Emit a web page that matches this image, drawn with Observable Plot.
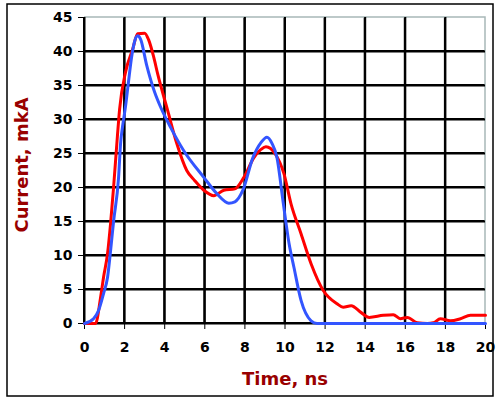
<!DOCTYPE html>
<html><head><meta charset="utf-8">
<script src="https://cdn.jsdelivr.net/npm/d3@7"></script>
<script src="https://cdn.jsdelivr.net/npm/@observablehq/plot@0.6"></script>
<style>html,body{margin:0;padding:0;background:#fff;overflow:hidden}</style>
</head><body><div id="chart"></div>
<script>
const xLabel = "Time, ns";
const yLabel = "Current, mkA";
const xTicks = [0, 2, 4, 6, 8, 10, 12, 14, 16, 18, 20];
const yTicks = [0, 5, 10, 15, 20, 25, 30, 35, 40, 45];

const redT = [0, 0.55, 0.8, 0.95, 1.15, 1.3, 1.45, 1.64, 1.75, 2.05, 2.4, 2.65, 3.0, 3.2, 3.45, 3.65, 4.15, 4.6, 5.1, 5.5, 5.95, 6.45, 6.95, 7.5, 7.95, 8.45, 8.8, 9.05, 9.5, 9.95, 10.3, 10.8, 11.3, 11.9, 12.6, 12.9, 13.3, 13.8, 14.2, 14.9, 15.4, 15.75, 16.1, 16.6, 17.1, 17.4, 17.75, 18.25, 18.75, 19.25, 20];
const redV = [0, 0, 3.8, 6.8, 10.3, 14.7, 20, 27.5, 31.5, 37, 40.3, 42.6, 42.7, 41.7, 39.2, 36.7, 31.3, 26.5, 22.5, 21, 19.6, 18.8, 19.6, 19.8, 21.5, 24.4, 25.6, 26, 25, 22, 17.6, 13.2, 8.8, 4.9, 2.9, 2.4, 2.6, 1.6, 0.9, 1.2, 1.3, 0.7, 0.9, 0.1, 0, 0.1, 0.7, 0.4, 0.7, 1.2, 1.2];

const blueT = [0, 0.45, 0.7, 0.95, 1.15, 1.3, 1.45, 1.7, 1.8, 1.9, 2.05, 2.2, 2.35, 2.5, 2.65, 2.8, 3.1, 3.5, 3.8, 4.3, 4.95, 5.95, 6.6, 7.2, 7.5, 7.9, 8.4, 8.8, 9.1, 9.35, 9.6, 9.9, 10.2, 10.45, 10.8, 11.3, 11.6, 20];
const blueV = [0, 0.7, 1.9, 4.4, 6.8, 10.7, 15, 21.5, 26.5, 29, 32, 35.7, 39.2, 41.5, 42.3, 41.8, 38, 34, 31.8, 28.8, 25.4, 21.5, 19.1, 17.7, 17.9, 19.6, 24.4, 26.6, 27.4, 26.5, 24.4, 18, 11.8, 8.2, 3.4, 0.4, 0, 0];

const red = redT.map((t, i) => ({t, v: redV[i]}));
const blue = blueT.map((t, i) => ({t, v: blueV[i]}));

const xMin = xTicks[0], xMax = xTicks[xTicks.length - 1];
const yMin = yTicks[0], yMax = yTicks[yTicks.length - 1];

const chart = Plot.plot({
  width: 499, height: 398,
  marginLeft: 84, marginRight: 14, marginTop: 17, marginBottom: 75,
  x: {domain: [xMin, xMax]},
  y: {domain: [yMin, yMax]},
  style: {fontFamily: "DejaVu Sans", fontWeight: "bold", fontSize: "14px", color: "black", background: "white"},
  marks: [
    Plot.ruleX(xTicks.filter(d => d < xMax), {stroke: "black", strokeWidth: 2}),
    Plot.ruleY(yTicks.filter(d => d < yMax), {stroke: "black", strokeWidth: 2}),
    Plot.axisX({ticks: xTicks, tickSize: 6, tickPadding: 13, label: null, fontSize: 14, fontWeight: "bold", tickFormat: d => String(d)}),
    Plot.axisY({ticks: yTicks, tickSize: 6, tickPadding: 6, label: null, fontSize: 14, fontWeight: "bold", tickFormat: d => String(d)}),
    Plot.line(red, {x: "t", y: "v", stroke: "#ff0000", strokeWidth: 3, curve: "monotone-x"}),
    Plot.line(blue, {x: "t", y: "v", stroke: "#3355ff", strokeWidth: 3, curve: "monotone-x"})
  ]
});
document.getElementById("chart").appendChild(chart);

// Grid drawn again with explicit per-element attributes, positioned through Plot's own scales
const sx = chart.scale("x"), sy = chart.scale("y");
const X = v => sx.apply(v), Y = v => sy.apply(v);
const svg = d3.select(chart);
const grid = svg.insert("g", "g");
xTicks.filter(d => d < xMax).forEach(t => {
  grid.append("path").attr("d", `M${X(t)},${Y(yMin)}V${Y(yMax)}`)
    .attr("stroke", "#000000").attr("stroke-width", 2).attr("fill", "none");
});
yTicks.filter(d => d < yMax).forEach(v => {
  grid.append("path").attr("d", `M${X(xMin)},${Y(v)}H${X(xMax)}`)
    .attr("stroke", "#000000").attr("stroke-width", 2).attr("fill", "none");
});
grid.append("path").attr("d", `M${X(xMin)},${Y(yMax)}H${X(xMax)}V${Y(yMin)}`)
  .attr("stroke", "#a8b8b8").attr("stroke-width", 1.5).attr("fill", "none");

svg.append("rect").attr("x", 7).attr("y", 4).attr("width", 486).attr("height", 392)
  .attr("fill", "none").attr("stroke", "black").attr("stroke-width", 1.5);
svg.append("text").attr("x", 285).attr("y", 385).attr("text-anchor", "middle")
  .attr("font-family", "DejaVu Sans").attr("font-weight", "bold").attr("font-size", 18)
  .attr("fill", "#990000").text(xLabel);
svg.append("text").attr("transform", "translate(28,165) rotate(-90)").attr("text-anchor", "middle")
  .attr("font-family", "DejaVu Sans").attr("font-weight", "bold").attr("font-size", 18)
  .attr("fill", "#990000").text(yLabel);
</script>
</body></html>
